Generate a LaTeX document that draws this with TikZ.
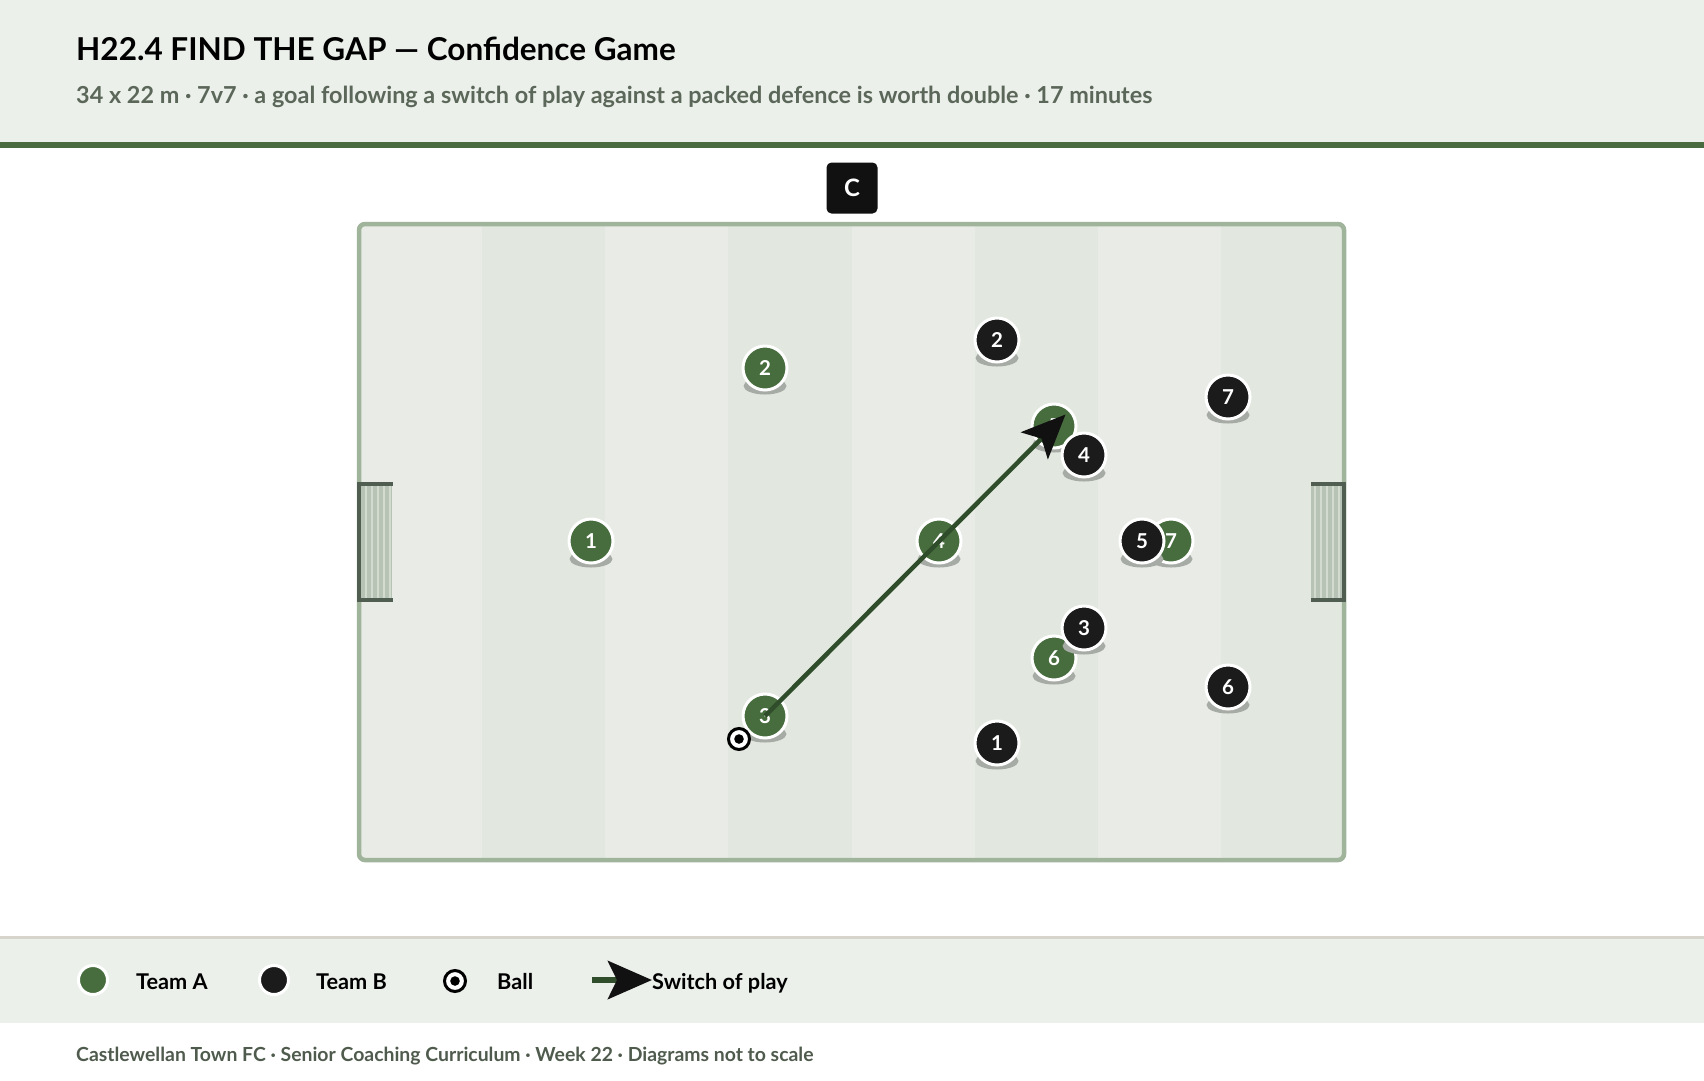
\documentclass[tikz,border=0pt]{standalone}
\usepackage{fontspec}
\setmainfont{Lato}
\usepackage{tikz}
\usetikzlibrary{calc,arrows.meta}

\definecolor{headbg}{HTML}{ECF0EB}
\definecolor{headline}{HTML}{4A6B40}
\definecolor{subgrey}{HTML}{5B6758}
\definecolor{stripelight}{HTML}{E9ECE6}
\definecolor{stripedark}{HTML}{E2E7DF}
\definecolor{pitchline}{HTML}{A0B39B}
\definecolor{goalframe}{HTML}{4F5E50}
\definecolor{goalnet}{HTML}{B7C3B4}
\definecolor{netline}{HTML}{D3DBD1}
\definecolor{teamA}{HTML}{476D3E}
\definecolor{teamB}{HTML}{1B1B1B}
\definecolor{passline}{HTML}{2F4D2A}
\definecolor{tipblack}{HTML}{111111}
\definecolor{shadowgrey}{HTML}{A7ABA5}
\definecolor{legendrule}{HTML}{D6D4CB}
\definecolor{footgrey}{HTML}{4F5B4D}

\tikzset{popA/.style={fill=teamA},popB/.style={fill=teamB},
player/.style={circle,draw=white,line width=3pt,minimum size=44pt,inner sep=0pt,text=white,font=\bfseries\fontsize{20.5}{20.5}\selectfont},
switchplay/.style={draw=passline,line width=4.5pt,-{Stealth[length=44pt,width=38pt,inset=10pt,color=tipblack]}}}

\begin{document}
\begin{tikzpicture}[x=1pt,y=-1pt]

\tikzset{legtext/.style={font=\bfseries\fontsize{21.7}{21.7}\selectfont,inner sep=0pt,anchor=base west},
legdot/.style={circle,draw=white,line width=3pt,minimum size=29pt,inner sep=0pt},
ballring/.style={circle,draw=black,fill=white,line width=3pt,minimum size=21pt,inner sep=0pt}}

\useasboundingbox (0,0) rectangle (1704,1080);
\fill[white] (0,0) rectangle (1704,1080);

% Header
\fill[headbg] (0,0) rectangle (1704,142);
\fill[headline] (0,142) rectangle (1704,148);
\node[anchor=base west,inner sep=0pt,font=\bfseries\fontsize{31.5}{31.5}\selectfont] (title) at (76,60) {H22.4 FIND THE GAP — Confidence Game};
\node[anchor=base west,inner sep=0pt,text=subgrey,font=\bfseries\fontsize{23.4}{23.4}\selectfont] (subtitle) at (76,103) {34 x 22 m · 7v7 · a goal following a switch of play against a packed defence is worth double · 17 minutes};

% Pitch
\coordinate (pitchNW) at (359,224);
\coordinate (pitchSE) at (1344,860);
\begin{scope}
\clip[rounded corners=6pt] (pitchNW) rectangle (pitchSE);
\foreach \s in {0,2,4,6} \fill[stripelight] ($(pitchNW)+(\s*123.125,0)$) rectangle ++(123.125,636);
\foreach \s in {1,3,5,7} \fill[stripedark] ($(pitchNW)+(\s*123.125,0)$) rectangle ++(123.125,636);
\end{scope}
\draw[pitchline,line width=4.5pt,rounded corners=6pt] (pitchNW) rectangle (pitchSE);

% Goals
\fill[goalnet] (361,486) rectangle (392,598);
\fill[goalnet] (1342,486) rectangle (1311,598);
\foreach \x in {366,372,378,384,390} \draw[netline,line width=1.2pt] (\x,486) -- (\x,598);
\foreach \x in {1339,1333,1327,1321,1315} \draw[netline,line width=1.2pt] (\x,486) -- (\x,598);
\draw[goalframe,line width=4pt] (392.7,484) -- (359,484) -- (359,599.5) -- (392.7,599.5);
\draw[goalframe,line width=4pt] (1311.3,484) -- (1344,484) -- (1344,599.5) -- (1311.3,599.5);

% Coach
\node[fill=tipblack,rounded corners=5pt,minimum width=51pt,minimum height=51pt,inner sep=0pt,text=white,font=\bfseries\fontsize{24}{24}\selectfont] (coach) at (852,188) {C};

% Team A
\foreach \n/\x/\y in {1/591/541,2/765/368,3/765/716,4/939/541,5/1054/426,6/1054/658,7/1171/541} {
  \fill[shadowgrey] (\x,\y+18) ellipse [x radius=21.5pt,y radius=8.5pt];
  \node[player,popA] (a\n) at (\x,\y) {\n};
}

% Team B
\foreach \n/\x/\y in {1/997/743,2/997/340,3/1084/628,4/1084/455,5/1142/541,6/1228/687,7/1228/397} {
  \fill[shadowgrey] (\x,\y+18) ellipse [x radius=21.5pt,y radius=8.5pt];
  \node[player,popB] (b\n) at (\x,\y) {\n};
}

% Switch of play
\coordinate (target) at ($(a5)+(11.5,-11.5)$);
\draw[switchplay] (a3.center) -- (target);

% Ball
\node[ballring] (ball) at (739,739) {};
\fill[black] (ball.center) circle (4.8pt);

% Legend
\fill[legendrule] (0,936) rectangle (1704,939);
\fill[headbg] (0,939) rectangle (1704,1023);
\node[legdot,popA] (legA) at (93,980) {};
\node[legtext] (legAtext) at (136,989) {Team A};
\node[legdot,popB] (legB) at (274,980) {};
\node[legtext] (legBtext) at (316,989) {Team B};
\node[ballring] (legBall) at (455,981) {};
\fill[black] (legBall.center) circle (4.8pt);
\node[legtext] (legBalltext) at (497,989) {Ball};
\coordinate (legArrow) at (592,980);
\coordinate (legTip) at (652,980);
\node[legtext] (legSwitch) at (652,989) {Switch of play};
\draw[draw=passline,line width=6.5pt,-{Stealth[length=44pt,width=38pt,inset=9pt,color=tipblack]}] (legArrow) -- (legTip);

% Footer
\node[anchor=base west,inner sep=0pt,text=footgrey,font=\bfseries\fontsize{19.4}{19.4}\selectfont] (footer) at (76,1061) {Castlewellan Town FC · Senior Coaching Curriculum · Week 22 · Diagrams not to scale};

\end{tikzpicture}
\end{document}
